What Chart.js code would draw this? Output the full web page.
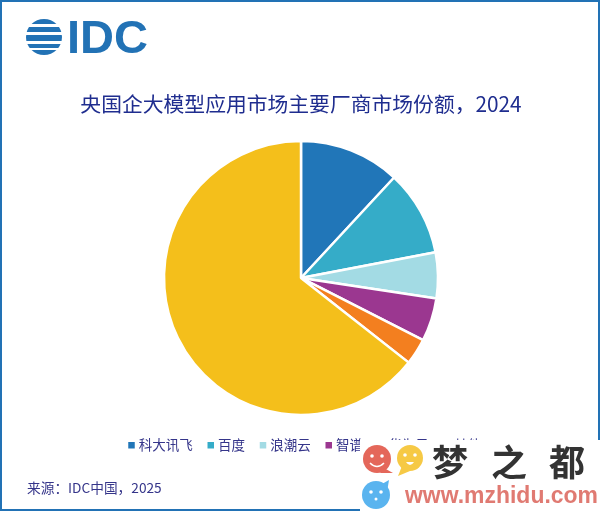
<!DOCTYPE html>
<html>
<head>
<meta charset="utf-8">
<script src="https://cdn.jsdelivr.net/npm/chart.js@4"></script>
<style>
  html, body { margin: 0; padding: 0; background: #fff; }
  #wrap { position: relative; width: 600px; height: 511px; overflow: hidden; font-family: "Noto Sans CJK SC", sans-serif; }
  #frame { position: absolute; left: 0; top: 0; width: 596px; height: 507px; border: 2px solid #2272b5; pointer-events: none; }
  #logo { position: absolute; left: 24px; top: 17px; }
  #source { position: absolute; left: 27px; top: 477px; font-size: 13.7px; line-height: 20px; color: #35358a; }
  #mark { position: absolute; left: 360px; top: 440px; width: 240px; height: 71px; background: #fff; }
  #mark svg { position: absolute; left: 0; top: 0; }
</style>
</head>
<body>
<div id="wrap">
  <canvas id="chartPie" width="600" height="511"></canvas>
  <div id="frame"></div>
  <svg id="logo" width="130" height="40">
    <defs><clipPath id="ball"><circle cx="20" cy="20" r="18"/></clipPath></defs>
    <g clip-path="url(#ball)" fill="#2272b5">
      <rect x="0" y="2" width="40" height="5"/>
      <rect x="0" y="10" width="40" height="5"/>
      <rect x="0" y="18" width="40" height="6"/>
      <rect x="0" y="27" width="40" height="4"/>
      <rect x="0" y="33" width="40" height="5"/>
    </g>
    <text x="43" y="36" font-family="Liberation Sans" font-size="47" font-weight="700" fill="#2272b5" textLength="81" lengthAdjust="spacingAndGlyphs">IDC</text>
  </svg>
  <div id="source">来源：IDC中国，2025</div>
  <div id="mark">
    <svg width="240" height="71">
      <circle cx="17" cy="19" r="14" fill="#e4675a"/>
      <path d="M24 28 L33 33 L20 33 z" fill="#e4675a"/>
      <circle cx="50" cy="18" r="13" fill="#f6c945"/>
      <path d="M42 26 L38 36 L50 31 z" fill="#f6c945"/>
      <circle cx="16" cy="55" r="14" fill="#5ab4ef"/>
      <path d="M22 44 L29 40 L27 52 z" fill="#5ab4ef"/>
      <circle cx="12" cy="16" r="1.8" fill="#fff"/><circle cx="22" cy="16" r="1.8" fill="#fff"/>
      <path d="M10 23 q7 7 14 0" stroke="#fff" stroke-width="1.5" fill="none"/>
      <circle cx="45" cy="15" r="1.8" fill="#fff"/><circle cx="55" cy="15" r="1.8" fill="#fff"/>
      <path d="M46 22 q4 6 8 0 z" fill="#fff"/>
      <circle cx="11" cy="52" r="1.8" fill="#fff"/><circle cx="21" cy="52" r="1.8" fill="#fff"/><circle cx="16" cy="59" r="1.5" fill="#fff"/>
      <text x="72" y="36" font-family="Noto Sans CJK SC" font-size="36" font-weight="700" fill="#333">梦</text>
      <text x="131" y="36" font-family="Noto Sans CJK SC" font-size="36" font-weight="700" fill="#333">之</text>
      <text x="189" y="36" font-family="Noto Sans CJK SC" font-size="36" font-weight="700" fill="#333">都</text>
      <text x="45" y="63" font-family="Liberation Sans" font-size="24" font-weight="700" fill="#e07a72" textLength="193" lengthAdjust="spacingAndGlyphs">www.mzhidu.com</text>
    </svg>
  </div>
</div>
<script>
// 份额是从图上的角度估出来的
const categories = ['科大讯飞', '百度', '浪潮云', '智谱', '华为云', '其他'];
const shares = [11.9, 10.1, 5.4, 5.1, 3.1, 64.4];
const colors = ['#2176b8', '#35acc8', '#a3dbe4', '#9b3790', '#f37f1f', '#f4bf1b'];
const titleText = '央国企大模型应用市场主要厂商市场份额，2024';

const ctx = document.getElementById('chartPie');

// 原图图例比饼图稍微偏右
const moveLegend = {
  id: 'moveLegend',
  beforeDraw(chart) {
    chart.legend.left += 5;
    chart.legend.right += 5;
  }
};

new Chart(ctx, {
  type: 'pie',
  plugins: [moveLegend],
  data: {
    labels: categories,
    datasets: [{
      data: shares,
      backgroundColor: colors,
      borderColor: '#ffffff',
      borderWidth: 2.5,
      radius: 137
    }]
  },
  options: {
    responsive: false,
    animation: false,
    layout: { padding: { top: 0, bottom: 49, left: 2, right: 0 } },
    plugins: {
      title: {
        display: true,
        text: titleText,
        color: '#1f2d8f',
        font: { family: 'Noto Sans CJK SC', size: 20.8, weight: 'normal' },
        padding: { top: 92, bottom: 18 }
      },
      legend: {
        position: 'bottom',
        labels: {
          usePointStyle: true,
          pointStyle: 'rect',
          boxWidth: 1,
          boxHeight: 9,
          padding: 17.5,
          color: '#35358a',
          font: { family: 'Noto Sans CJK SC', size: 13.5 }
        }
      },
      tooltip: { enabled: false }
    }
  }
});
</script>
</body>
</html>
